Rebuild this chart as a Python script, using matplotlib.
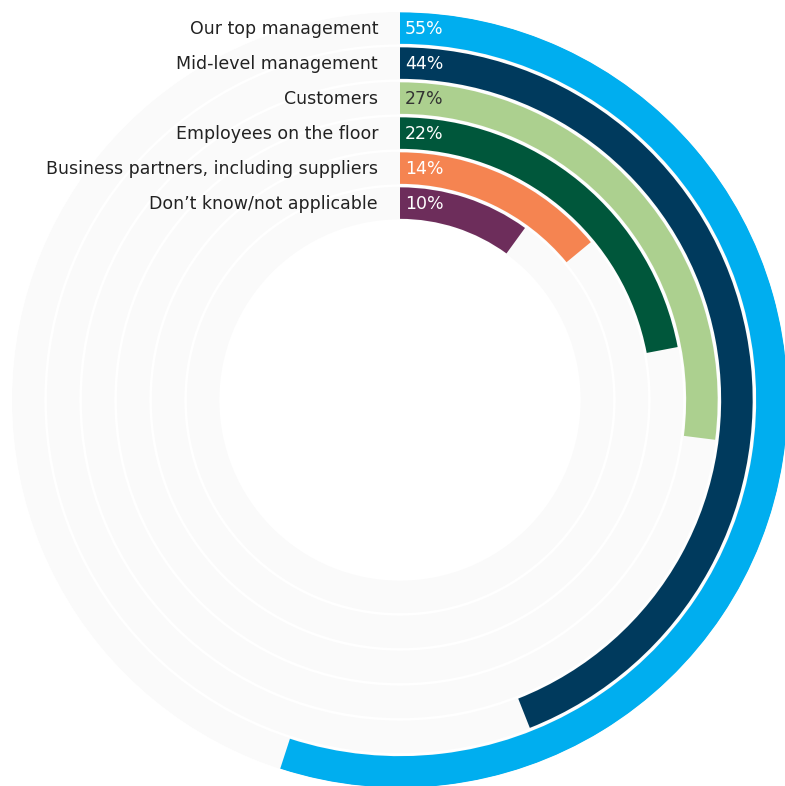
import matplotlib as mpl
import matplotlib.pyplot as plt
import numpy as np

# survey shares, outer ring first
categories = ["Our top management", "Mid-level management", "Customers",
              "Employees on the floor", "Business partners, including suppliers",
              "Don\u2019t know/not applicable"]
values = [55, 44, 27, 22, 14, 10]
colors = ["#00aeef", "#003a5d", "#acd08f", "#00573b", "#f58451", "#6d2d5b"]
text_colors = ["white", "white", "#333333", "white", "white", "white"]

plt.rcParams['font.family'] = ['DejaVu Sans']

W, H = 785, 786
cx, cy, rmax = 400, 400, 388
pitch = 35.0

fig = plt.figure(figsize=(W / 100, H / 100), dpi=100)
ax = fig.add_axes([(cx - rmax) / W, (H - cy - rmax) / H, 2 * rmax / W, 2 * rmax / H],
                  projection='polar')
ax.set_theta_zero_location('N')
ax.set_theta_direction(-1)
ax.set_ylim(0, rmax / pitch)
ax.axis('off')

ring_r = [rmax / pitch - 0.46 - i for i in range(len(values))]
theta = np.deg2rad(np.array(values) * 3.6)

# grey tracks behind each ring
ax.bar(np.pi, 0.93, width=2 * np.pi, bottom=np.array(ring_r) - 0.465,
       color="#fafafa", edgecolor="none", align='center')
ax.bar(0, 0.9, width=theta, bottom=np.array(ring_r) - 0.45,
       color=colors, edgecolor="none", align='edge')

for i, (cat, v) in enumerate(zip(categories, values)):
    ax.annotate(cat, xy=(0, ring_r[i]), xytext=(-22, -1), textcoords='offset pixels',
                ha='right', va='center', fontsize=12.5, color="#222222")
    ax.annotate(f"{v}%", xy=(0, ring_r[i]), xytext=(5, -1), textcoords='offset pixels',
                ha='left', va='center', fontsize=12.5, color=text_colors[i])

plt.savefig('out.png', dpi=100, facecolor='white')
